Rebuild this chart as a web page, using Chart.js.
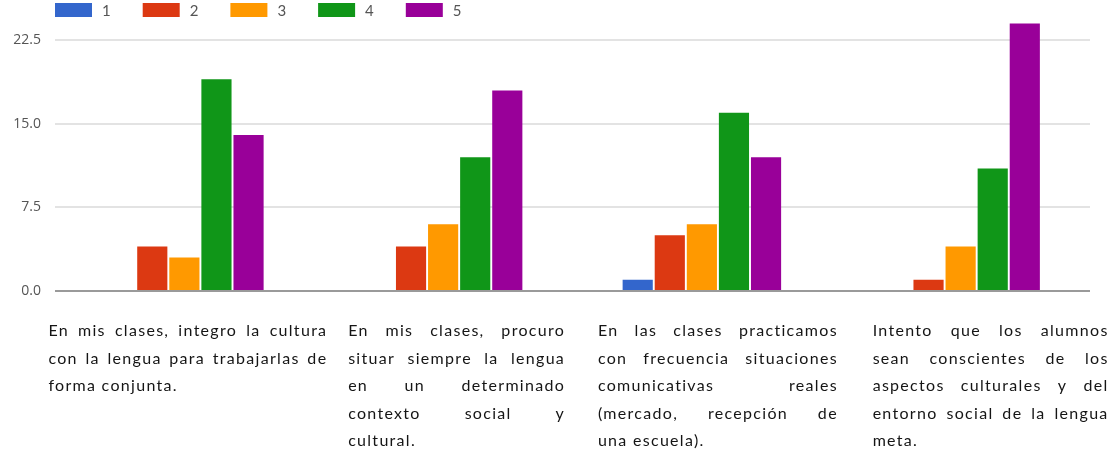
<!DOCTYPE html>
<html>
<head>
<meta charset="utf-8">
<script src="https://cdn.jsdelivr.net/npm/chart.js@4"></script>
<style>
  html, body { margin: 0; padding: 0; background: #fff; }
  #wrap { width: 1111px; height: 465px; position: relative; }
</style>
</head>
<body>
<div id="wrap"><canvas id="chart"></canvas></div>
<script>
// category texts, one entry per line as printed under each group
const categories = [
  ['En mis clases, integro la cultura', 'con la lengua para trabajarlas de', 'forma conjunta.'],
  ['En mis clases, procuro', 'situar siempre la lengua', 'en un determinado', 'contexto social y', 'cultural.'],
  ['En las clases practicamos', 'con frecuencia situaciones', 'comunicativas reales', '(mercado, recepción de', 'una escuela).'],
  ['Intento que los alumnos', 'sean conscientes de los', 'aspectos culturales y del', 'entorno social de la lengua', 'meta.']
];
const seriesNames = ['1', '2', '3', '4', '5'];
const values1 = [0, 0, 1, 0];
const values2 = [4, 4, 5, 1];
const values3 = [3, 6, 6, 4];
const values4 = [19, 12, 16, 11];
const values5 = [14, 18, 12, 24];
const yTicks = [0, 7.5, 15, 22.5];

const colors = ['#3366cc', '#dc3912', '#ff9900', '#109618', '#990099'];
// text block of each category: offset of its left edge from the category centre, and width
const labelBoxes = [[-136, 279], [-95, 217], [-104, 240], [-88, 236]];

// legend drawn by hand so it lines up with the plot's left edge
const topLegend = {
  id: 'topLegend',
  afterDraw(chart) {
    const ctx = chart.ctx;
    ctx.save();
    ctx.font = '15px Lato';
    ctx.textBaseline = 'middle';
    ctx.textAlign = 'left';
    let x = chart.chartArea.left;
    chart.data.datasets.forEach(ds => {
      ctx.fillStyle = ds.backgroundColor;
      ctx.fillRect(x, 3, 37, 14);
      ctx.fillStyle = '#555';
      ctx.fillText(ds.label, x + 47, 11);
      x += 37 + 10 + ctx.measureText(ds.label).width + 32;
    });
    ctx.restore();
  }
};

// justified text blocks under each group
const catLabels = {
  id: 'catLabels',
  afterDraw(chart) {
    const ctx = chart.ctx, xs = chart.scales.x;
    ctx.save();
    ctx.font = '16px Lato';
    ctx.letterSpacing = '1.3px';
    ctx.fillStyle = '#151515';
    ctx.textBaseline = 'middle';
    ctx.textAlign = 'left';
    categories.forEach((lines, i) => {
      const left = xs.getPixelForValue(i) + labelBoxes[i][0];
      const w = labelBoxes[i][1];
      lines.forEach((line, j) => {
        const y = chart.chartArea.bottom + 40 + j * 27.5;
        const words = line.split(' ');
        if (j === lines.length - 1 || words.length < 2) {
          ctx.fillText(line, left, y);
          return;
        }
        const ww = words.map(s => ctx.measureText(s).width);
        const gap = Math.max(3, (w - ww.reduce((a, b) => a + b, 0)) / (words.length - 1));
        let cx = left;
        words.forEach((s, k) => { ctx.fillText(s, cx, y); cx += ww[k] + gap; });
      });
    });
    ctx.restore();
  }
};

const seriesValues = [values1, values2, values3, values4, values5];

new Chart(document.getElementById('chart'), {
  type: 'bar',
  data: {
    labels: categories.map(l => l.join(' ')),
    datasets: seriesNames.map((name, i) => ({
      label: name,
      data: seriesValues[i],
      backgroundColor: colors[i],
      borderWidth: 0,
      categoryPercentage: 0.62,
      barPercentage: 0.94
    }))
  },
  options: {
    responsive: true,
    maintainAspectRatio: false,
    animation: false,
    layout: { padding: { top: 17, right: 21, bottom: 174, left: 0 } },
    plugins: {
      legend: { display: false },
      tooltip: { enabled: false }
    },
    scales: {
      x: { display: false },
      y: {
        min: 0,
        max: 24.1,
        afterBuildTicks: s => { s.ticks = yTicks.map(v => ({ value: v })); },
        afterFit: s => { s.width = 55; },
        border: { display: false },
        grid: {
          drawTicks: false,
          color: c => c.tick.value === 0 ? '#9a9a9a' : '#e3e3e3',
          lineWidth: 2
        },
        ticks: {
          padding: 14,
          color: '#555',
          font: { family: 'Open Sans', size: 14 },
          callback: v => Number(v).toFixed(1)
        }
      }
    }
  },
  plugins: [topLegend, catLabels]
});
</script>
</body>
</html>
